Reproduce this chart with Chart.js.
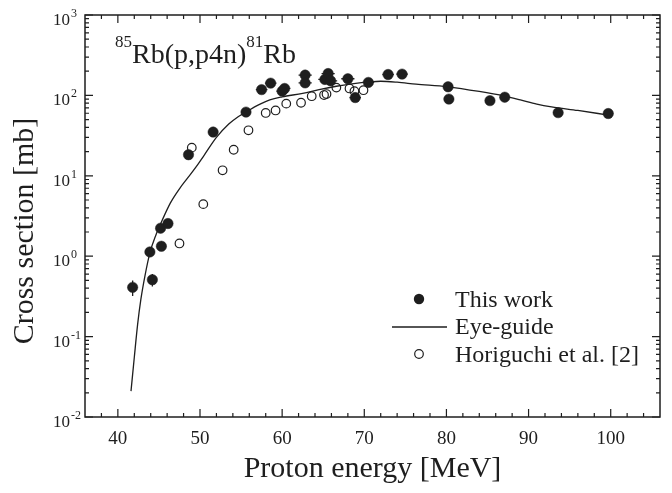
<!DOCTYPE html>
<html><head><meta charset="utf-8">
<script src="https://cdn.jsdelivr.net/npm/chart.js@4.4.0/dist/chart.umd.min.js"></script>
<style>html,body{margin:0;padding:0;background:#fff;}#c{display:block;}</style>
</head><body>
<canvas id="c" width="672" height="493"></canvas>
<script>
// ---- data ----
const thisWorkE  = [41.8, 43.9, 44.2, 45.2, 45.3, 46.1, 48.6, 51.6, 55.6, 57.5, 58.6, 60.0, 60.3, 62.8, 62.8, 65.2, 65.6, 65.9, 68.0, 68.9, 70.5, 72.9, 74.6, 80.2, 80.3, 85.3, 87.1, 93.6, 99.7];
const thisWorkXS = [0.41, 1.13, 0.51, 2.23, 1.33, 2.55, 18.3, 35, 62, 118, 142, 113, 122, 179, 143, 158, 187, 152, 161, 94, 145, 182, 184, 128, 90, 86, 95, 61, 59.5];
const thisWorkErr = [0.09, 0.12, 0.09, 0.25, 0.15, 0.3, 2, 4, 7, 14, 16, 13, 14, 20, 16, 18, 21, 17, 18, 11, 16, 20, 20, 14, 10, 10, 11, 7, 7];
const thisWorkEErr = [0.4, 0.4, 0.4, 0.4, 0.4, 0.4, 0.5, 0.5, 0.6, 0.7, 0.7, 0.7, 0.7, 0.8, 0.8, 0.8, 0.8, 0.8, 0.8, 0.7, 0.7, 0.7, 0.7, 0.6, 0.6, 0.6, 0.6, 0.6, 0.6];
const horiguchiE  = [47.5, 49.0, 50.4, 52.75, 54.1, 55.9, 58.0, 59.2, 60.5, 62.3, 63.6, 65.1, 65.4, 66.6, 68.2, 68.8, 69.9];
const horiguchiXS = [1.44, 22.4, 4.44, 11.7, 21.1, 36.8, 60.5, 65, 79, 81, 97.7, 101, 104, 125, 122, 113, 116];
const guideE  = [41.6, 42.0, 42.4, 42.8, 43.3, 43.9, 44.6, 45.4, 46.4, 47.5, 48.5, 49.5, 50.5, 52.0, 53.5, 54.6, 55.6, 57.0, 58.5, 60.0, 62.5, 64.5, 66.6, 68.5, 70.6, 72.0, 74.0, 76.3, 80.1, 84.0, 87.1, 89.0, 91.0, 92.8, 96.0, 99.7];
const guideXS = [0.021, 0.055, 0.14, 0.29, 0.57, 1.1, 1.8, 2.8, 4.6, 6.9, 9.4, 12.8, 18, 30, 44, 54, 62, 75, 88, 96, 106, 118, 130, 139, 147, 150, 146, 138, 128, 112, 98, 88, 78, 72, 65, 57];
const xTickLabels = [40, 50, 60, 70, 80, 90, 100];
const yTickExps = [-2, -1, 0, 1, 2, 3];
const legendLabels = ['This work', 'Eye-guide', 'Horiguchi et al. [2]'];
const xTitle = 'Proton energy [MeV]';
const yTitle = 'Cross section [mb]';

const INK = '#1e1e1e';
const SERIF = '"Liberation Serif", "Times New Roman", serif';

const pts = (xs, ys) => xs.map((x, i) => ({x, y: ys[i]}));

const decor = {
  id: 'decor',
  beforeDatasetsDraw(chart) {
    const ctx = chart.ctx, xs = chart.scales.x, ys = chart.scales.y;
    ctx.save();
    ctx.strokeStyle = INK; ctx.lineWidth = 1.3;
    thisWorkE.forEach((e, i) => {
      const v = thisWorkXS[i], dv = thisWorkErr[i], de = thisWorkEErr[i];
      const px = xs.getPixelForValue(e), py = ys.getPixelForValue(v);
      ctx.beginPath();
      ctx.moveTo(px, ys.getPixelForValue(v + dv));
      ctx.lineTo(px, ys.getPixelForValue(Math.max(v - dv, 1e-3)));
      ctx.moveTo(xs.getPixelForValue(e - de), py);
      ctx.lineTo(xs.getPixelForValue(e + de), py);
      ctx.stroke();
    });
    ctx.restore();
  },
  afterDraw(chart) {
    const ctx = chart.ctx, a = chart.chartArea, xs = chart.scales.x, ys = chart.scales.y;
    ctx.save();
    ctx.strokeStyle = INK; ctx.fillStyle = INK;
    ctx.lineWidth = 1.5;
    ctx.strokeRect(a.left, a.top, a.right - a.left, a.bottom - a.top);
    ctx.lineWidth = 1.2;
    ctx.beginPath();
    for (let e = 36; e <= 106; e += 2) {
      const px = xs.getPixelForValue(e);
      if (px <= a.left + 0.5 || px >= a.right - 0.5) continue;
      const L = (e % 10 === 0) ? 8 : 4;
      ctx.moveTo(px, a.bottom); ctx.lineTo(px, a.bottom - L);
      ctx.moveTo(px, a.top); ctx.lineTo(px, a.top + L);
    }
    for (let d = -2; d <= 3; d++) {
      for (let m = 1; m <= 9; m++) {
        const v = m * Math.pow(10, d);
        if (v > 1000) break;
        const py = ys.getPixelForValue(v);
        const L = (m === 1) ? 8 : 4;
        ctx.moveTo(a.left, py); ctx.lineTo(a.left + L, py);
        ctx.moveTo(a.right, py); ctx.lineTo(a.right - L, py);
      }
    }
    ctx.stroke();

    ctx.font = '19px ' + SERIF;
    ctx.textAlign = 'center'; ctx.textBaseline = 'alphabetic';
    xTickLabels.forEach(e => ctx.fillText(String(e), xs.getPixelForValue(e), 444));
    yTickExps.forEach(n => {
      const py = ys.getPixelForValue(Math.pow(10, n));
      ctx.font = '17px ' + SERIF; ctx.textAlign = 'left';
      ctx.fillText('10', 53, py + 10);
      ctx.font = '12px ' + SERIF;
      ctx.fillText(n < 0 ? '-' + Math.abs(n) : String(n), 71, py + 2);
    });
    ctx.font = '30px ' + SERIF; ctx.textAlign = 'center';
    ctx.fillText(xTitle, (a.left + a.right) / 2, 477);
    ctx.save();
    ctx.translate(33, 231);
    ctx.rotate(-Math.PI / 2);
    ctx.fillText(yTitle, 0, 0);
    ctx.restore();

    ctx.textAlign = 'left';
    let x = 115;
    const seg = [['85', 17, 47], ['Rb(p,p4n)', 28, 63], ['81', 17, 47], ['Rb', 28, 63]];
    seg.forEach(([t, s, b]) => { ctx.font = s + 'px ' + SERIF; ctx.fillText(t, x, b); x += ctx.measureText(t).width; });

    ctx.font = '24px ' + SERIF;
    ctx.beginPath(); ctx.arc(419, 299, 5.2, 0, Math.PI * 2); ctx.fill();
    ctx.fillText(legendLabels[0], 455, 306.5);
    ctx.lineWidth = 1.3;
    ctx.beginPath(); ctx.moveTo(392, 327); ctx.lineTo(447, 327); ctx.stroke();
    ctx.fillText(legendLabels[1], 455, 334);
    ctx.lineWidth = 1.2;
    ctx.beginPath(); ctx.arc(419, 354, 4.3, 0, Math.PI * 2); ctx.stroke();
    ctx.fillText(legendLabels[2], 455, 361.5);
    ctx.restore();
  }
};

new Chart(document.getElementById('c'), {
  type: 'scatter',
  data: {
    datasets: [
      { label: legendLabels[0], data: pts(thisWorkE, thisWorkXS), order: 0,
        pointRadius: 5.2, pointBackgroundColor: INK, pointBorderColor: INK, pointBorderWidth: 0.5, showLine: false },
      { label: legendLabels[2], data: pts(horiguchiE, horiguchiXS), order: 1,
        pointRadius: 4.3, pointBackgroundColor: 'rgba(255,255,255,0)', pointBorderColor: INK, pointBorderWidth: 1.2, showLine: false },
      { label: legendLabels[1], data: pts(guideE, guideXS), order: 2,
        showLine: true, pointRadius: 0, borderColor: INK, borderWidth: 1.3, cubicInterpolationMode: 'monotone', fill: false }
    ]
  },
  options: {
    responsive: false, animation: false, events: [],
    layout: { padding: { left: 85, top: 15, right: 12, bottom: 76 } },
    plugins: { legend: { display: false }, tooltip: { enabled: false }, title: { display: false } },
    scales: {
      x: { type: 'linear', min: 36, max: 106, display: false },
      y: { type: 'logarithmic', min: 0.01, max: 1000, display: false }
    }
  },
  plugins: [decor]
});
</script>
</body></html>
